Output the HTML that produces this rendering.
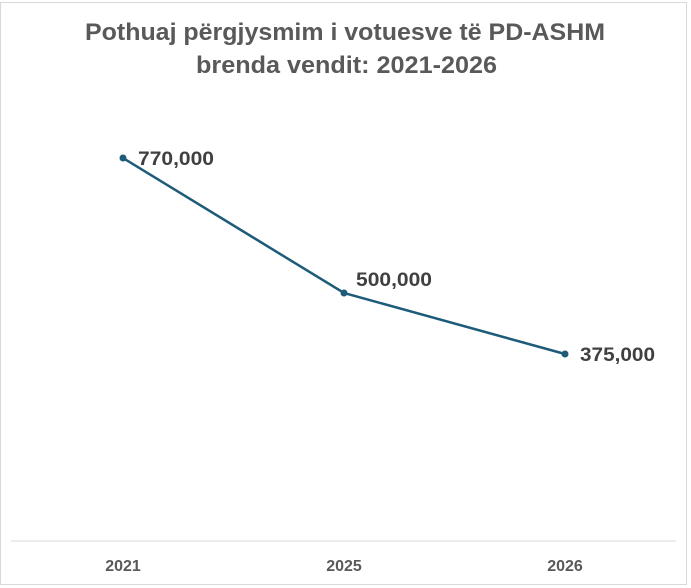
<!DOCTYPE html>
<html><head><style>
body{margin:0;background:#fff;}
svg{display:block;font-family:"Liberation Sans",sans-serif;}
</style></head><body>
<svg width="691" height="588" viewBox="0 0 691 588">
<rect x="0.5" y="2.5" width="686" height="582" fill="#fff" stroke="#d9d9d9"/>
<text x="85" y="40" font-size="24" font-weight="bold" fill="#595959" textLength="520" lengthAdjust="spacingAndGlyphs">Pothuaj përgjysmim i votuesve të PD-ASHM</text>
<text x="196" y="73" font-size="24" font-weight="bold" fill="#595959" textLength="301" lengthAdjust="spacingAndGlyphs">brenda vendit: 2021-2026</text>
<line x1="11" y1="541" x2="676" y2="541" stroke="#d9d9d9" stroke-width="1"/>
<polyline points="123,158 344,293 565,354" fill="none" stroke="#1d5b79" stroke-width="2.5"/>
<circle cx="123" cy="158" r="3.5" fill="#1d5b79"/>
<circle cx="344" cy="293" r="3.5" fill="#1d5b79"/>
<circle cx="565" cy="354" r="3.5" fill="#1d5b79"/>
<g font-size="19" font-weight="bold" fill="#404040">
<text x="138" y="165" textLength="76" lengthAdjust="spacingAndGlyphs">770,000</text>
<text x="356" y="286" textLength="76" lengthAdjust="spacingAndGlyphs">500,000</text>
<text x="580" y="361" textLength="75" lengthAdjust="spacingAndGlyphs">375,000</text>
</g>
<g font-size="16" font-weight="bold" fill="#595959" text-anchor="middle">
<text x="123" y="571">2021</text>
<text x="344" y="571">2025</text>
<text x="565" y="571">2026</text>
</g>
</svg>
</body></html>
